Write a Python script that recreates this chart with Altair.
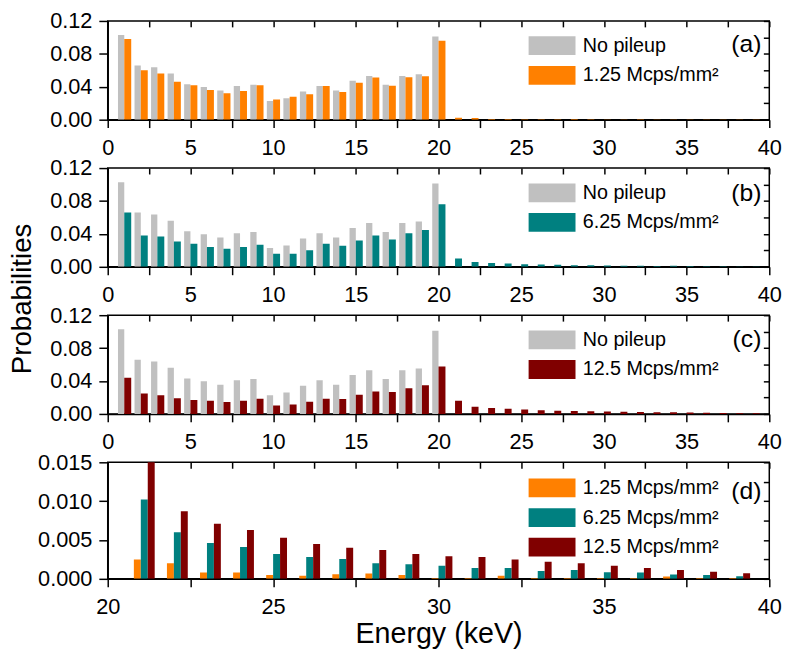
import altair as alt
import pandas as pd

# ---------------- data ----------------
ENERGY = list(range(1, 40))          # 1 .. 39 keV
ENERGY_NP = list(range(1, 21))       # no-pileup spectrum only up to 20 keV

NO_PILEUP = [0.1028, 0.066, 0.0636, 0.056, 0.0432, 0.0396, 0.0356, 0.0408, 0.0424, 0.0228,
             0.026, 0.0344, 0.0408, 0.0356, 0.0472, 0.0532, 0.0424, 0.0532, 0.0552, 0.1012]

R125 = [0.098, 0.060, 0.056, 0.046, 0.042, 0.036, 0.032, 0.0348, 0.042, 0.0244,
        0.028, 0.0308, 0.0408, 0.0336, 0.0448, 0.0512, 0.0412, 0.0516, 0.0528, 0.096,
        0.0025, 0.0020, 0.0008, 0.0008, 0.0005, 0.0004, 0.0006, 0.0007, 0.0005, 0.0001,
        0.0001, 0.0004, 0.0001, 0.0001, 0.0001, 0.0001, 0.0003, 0.0001, 0.0001]

R625 = [0.066, 0.038, 0.0368, 0.0308, 0.028, 0.024, 0.022, 0.024, 0.0268, 0.016,
        0.016, 0.020, 0.028, 0.0256, 0.032, 0.038, 0.0332, 0.0408, 0.0448, 0.076,
        0.0102, 0.0060, 0.0046, 0.0041, 0.0032, 0.0028, 0.00255, 0.0020, 0.00187, 0.0017,
        0.0014, 0.0014, 0.0010, 0.00115, 0.00085, 0.0008, 0.00055, 0.0005, 0.00034]

R125B = [0.044, 0.0248, 0.0228, 0.0192, 0.0168, 0.016, 0.0144, 0.016, 0.0184, 0.0104,
         0.0116, 0.0148, 0.0184, 0.018, 0.0232, 0.0272, 0.0268, 0.0312, 0.0348, 0.0576,
         0.016, 0.0087, 0.0071, 0.0063, 0.0053, 0.0045, 0.0040, 0.0037, 0.0032, 0.0029,
         0.0028, 0.0025, 0.0022, 0.0020, 0.0017, 0.0014, 0.00115, 0.0009, 0.00072]

S_NP = "No pileup"
S1 = "1.25 Mcps/mm²"
S2 = "6.25 Mcps/mm²"
S3 = "12.5 Mcps/mm²"

C_NP, C1, C2, C3 = "#c0c0c0", "#ff8000", "#008080", "#800000"

SERIES = {S_NP: (ENERGY_NP, NO_PILEUP), S1: (ENERGY, R125), S2: (ENERGY, R625), S3: (ENERGY, R125B)}

FONT = "Liberation Sans"


def table(parts):
    """parts: list of (series, left offset, right offset) -> long table with bar edges"""
    rows = []
    for s, lo, hi in parts:
        es, vs = SERIES[s]
        for e, v in zip(es, vs):
            rows.append({"series": s, "energy": e, "value": v, "base": 0.0,
                         "x0": e + lo, "x1": e + hi})
    return pd.DataFrame(rows)


def panel(df, xdom, ydom, ylabels, yfmt, yright, xbottom, xtop, series, colors,
          tag, leg_y, tag_dy, height, xtitle=None, ytitle=None, ytitle_y=None):
    xs = alt.Scale(domain=xdom, nice=False, zero=False)
    ys = alt.Scale(domain=ydom, nice=False, zero=True)

    bottom_kw = dict(values=xbottom, labelExpr="datum.value % 5 == 0 ? format(datum.value, 'd') : ''",
                     tickSize=8, labelPadding=10, labelFlush=False, grid=False, title=xtitle)
    if xtitle:
        bottom_kw.update(titlePadding=2)
    left_kw = dict(values=ylabels, format=yfmt, tickSize=9, labelPadding=7, grid=False, title=ytitle)
    if ytitle:
        left_kw.update(titlePadding=13, titleFontSize=28)
        if ytitle_y is not None:
            left_kw.update(titleY=ytitle_y)

    legend = alt.Legend(orient="none", legendX=440, legendY=leg_y, title=None,
                        symbolType="M-2.5,-1H2.5V1H-2.5Z", symbolSize=361, symbolStrokeWidth=0,
                        symbolOpacity=1, labelFont=FONT, labelFontSize=20, labelColor="black",
                        labelOffset=21, rowPadding=10, padding=0, labelLimit=400)

    bars = alt.Chart(df).mark_rect(clip=True, strokeWidth=0).encode(
        x=alt.X("x0:Q", scale=xs, axis=alt.Axis(**bottom_kw)),
        x2="x1:Q",
        y=alt.Y("value:Q", scale=ys, axis=alt.Axis(**left_kw)),
        y2="base:Q",
        color=alt.Color("series:N", scale=alt.Scale(domain=series, range=colors), legend=legend),
    )
    frame = alt.Chart(df).mark_rect(clip=True, opacity=0).encode(
        x=alt.X("x0:Q", scale=xs, axis=alt.Axis(orient="top", values=xtop, labels=False, domain=False,
                                                tickSize=6, offset=-6, grid=False, title=None)),
        x2="x1:Q",
        y=alt.Y("value:Q", scale=ys, axis=alt.Axis(orient="right", values=yright, labels=False, domain=False,
                                                  tickSize=6, offset=-6, grid=False, title=None)),
        y2="base:Q",
    )
    label = alt.Chart(pd.DataFrame({"t": [tag]})).mark_text(
        align="right", baseline="middle", fontSize=25, font=FONT, color="black", dx=-8, dy=tag_dy
    ).encode(
        x=alt.XDatum(xdom[1], type="quantitative", scale=xs, axis=None),
        y=alt.YDatum(ydom[1], type="quantitative", scale=ys, axis=None),
        text="t:N",
    )
    return alt.layer(bars, frame, label).resolve_axis(x="independent", y="independent").properties(
        width=670, height=height)


def frange(a, b, step):
    out, v = [], a
    while v <= b + 1e-9:
        out.append(round(v, 6))
        v += step
    return out


Y_MAIN = [0, 0.04, 0.08, 0.12]
Y_MAIN_R = frange(0, 0.12, 0.02)
X_MAIN_B = frange(0, 40, 2.5)
X_MAIN_T = frange(0, 40, 2.5)

da = table([(S_NP, -0.38, 0.0), (S1, 0.0, 0.42)])
db = table([(S_NP, -0.38, 0.0), (S2, 0.0, 0.42)])
dc = table([(S_NP, -0.38, 0.0), (S3, 0.0, 0.42)])
dd = table([(S1, -0.21, 0.0), (S2, 0.0, 0.21), (S3, 0.21, 0.42)])
dd = dd[dd["energy"] >= 21]

pa = panel(da, [0, 40], [0, 0.12], Y_MAIN, ".2f", Y_MAIN_R, X_MAIN_B, X_MAIN_T,
           [S_NP, S1], [C_NP, C1], "(a)", 15, 23, 100)
pb = panel(db, [0, 40], [0, 0.12], Y_MAIN, ".2f", Y_MAIN_R, X_MAIN_B, X_MAIN_T,
           [S_NP, S2], [C_NP, C2], "(b)", 15, 25, 100, ytitle="Probabilities", ytitle_y=132)
pc = panel(dc, [0, 40], [0, 0.12], Y_MAIN, ".2f", Y_MAIN_R, X_MAIN_B, X_MAIN_T,
           [S_NP, S3], [C_NP, C3], "(c)", 15, 24, 100)
pd_ = panel(dd, [20, 40], [0, 0.015], [0, 0.005, 0.010, 0.015], ".3f", frange(0, 0.015, 0.0025),
            frange(20, 40, 2.5), frange(20, 40, 1.25),
            [S1, S2, S3], [C1, C2, C3], "(d)", 16, 29, 118, xtitle="Energy (keV)")

chart = alt.vconcat(pa, pb, pc, pd_, spacing=49, bounds="flush").resolve_scale(
    color="independent"
).properties(
    background="white", padding={"left": 0, "top": -3, "right": 10, "bottom": 0}
).configure_view(stroke="black", strokeWidth=1.5).configure_axis(
    labelFont=FONT, titleFont=FONT, labelFontSize=22, titleFontSize=29, labelColor="black",
    titleColor="black", titleFontWeight="normal", tickColor="black", domainColor="black",
    domainWidth=1.5, tickWidth=1.5,
)

chart.save("out.html", embed_options={"renderer": "svg", "actions": False})
